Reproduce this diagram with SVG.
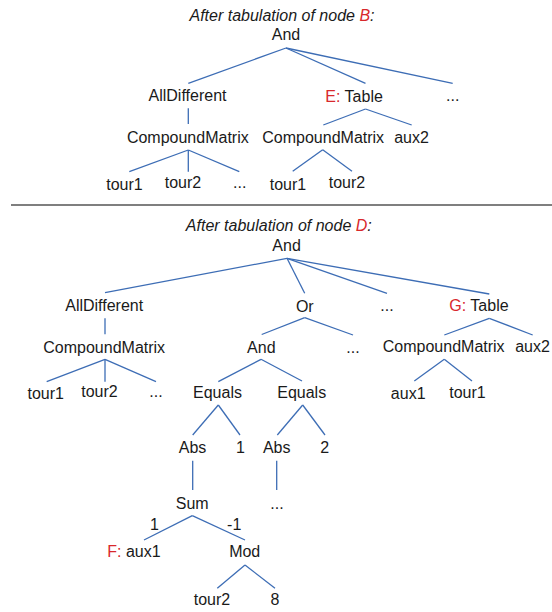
<svg xmlns="http://www.w3.org/2000/svg" width="552" height="612" viewBox="0 0 552 612">
<style>
text{font-family:"Liberation Sans",Arial,sans-serif;font-size:16px;fill:#1a1a1a;text-anchor:middle}
text.s{text-anchor:start}
text.t{font-style:italic}
.r{fill:#d8282c}
#connectors line{stroke:#3d6db5;stroke-width:1.3;fill:none}
#sep{stroke:#555;stroke-width:1.3}
</style>
<rect width="552" height="612" fill="#fff"/>
<g id="connectors">
<line x1="286" y1="48" x2="188.3" y2="83.3"/>
<line x1="286" y1="48" x2="365.5" y2="83.3"/>
<line x1="286" y1="48" x2="452.7" y2="83.3"/>
<line x1="188.3" y1="108.3" x2="188.3" y2="124"/>
<line x1="365.5" y1="109" x2="323.3" y2="125"/>
<line x1="365.5" y1="109" x2="411.7" y2="125"/>
<line x1="188.3" y1="150" x2="129.3" y2="171.7"/>
<line x1="188.3" y1="150" x2="188.3" y2="171.7"/>
<line x1="188.3" y1="150" x2="239.3" y2="171.7"/>
<line x1="322.7" y1="149.7" x2="292.7" y2="171.3"/>
<line x1="322.7" y1="149.7" x2="352" y2="171.3"/>
<line x1="287" y1="258.3" x2="105" y2="292.7"/>
<line x1="287" y1="258.3" x2="304.7" y2="293.3"/>
<line x1="287" y1="258.3" x2="387" y2="293.3"/>
<line x1="287" y1="258.3" x2="489.3" y2="294"/>
<line x1="105" y1="318.3" x2="105" y2="334.3"/>
<line x1="304.7" y1="317.7" x2="261.7" y2="334.5"/>
<line x1="304.7" y1="317.7" x2="353" y2="335"/>
<line x1="489.3" y1="318.3" x2="444.3" y2="335"/>
<line x1="489.3" y1="318.3" x2="532.7" y2="335"/>
<line x1="105" y1="359.3" x2="46.7" y2="381.7"/>
<line x1="105" y1="359.3" x2="105" y2="381.7"/>
<line x1="105" y1="359.3" x2="156" y2="381.7"/>
<line x1="261" y1="359.3" x2="218.3" y2="381.7"/>
<line x1="261" y1="359.3" x2="302" y2="381"/>
<line x1="444.3" y1="359.3" x2="414.3" y2="381"/>
<line x1="444.3" y1="359.3" x2="472" y2="381"/>
<line x1="218.3" y1="405" x2="192.7" y2="435"/>
<line x1="218.3" y1="405" x2="240" y2="435"/>
<line x1="302.7" y1="405" x2="277.3" y2="435"/>
<line x1="302.7" y1="405" x2="325" y2="435"/>
<line x1="192.7" y1="460.7" x2="192.7" y2="490"/>
<line x1="276.7" y1="460.7" x2="276.7" y2="490"/>
<line x1="192.3" y1="515.7" x2="144" y2="540"/>
<line x1="192.3" y1="515.7" x2="245" y2="540"/>
<line x1="245" y1="565" x2="217.3" y2="588.3"/>
<line x1="245" y1="565" x2="275" y2="588.3"/>
</g>
<line id="sep" x1="11" y1="205" x2="552" y2="205"/>
<g id="top">
<text id="title1" class="t" x="282" y="20.5">After tabulation of node <tspan class="r">B</tspan>:</text>
<g id="t_and"><text x="286" y="40">And</text></g>
<g id="t_alldiff"><text x="187.5" y="101">AllDifferent</text></g>
<g id="t_table"><text class="s" x="325.3" y="101.5"><tspan class="r">E:</tspan> Table</text></g>
<g id="t_dots1"><text x="452.7" y="101">...</text></g>
<g id="t_cm1"><text x="187.8" y="142.7">CompoundMatrix</text></g>
<g id="t_cm2"><text x="323.2" y="142.7">CompoundMatrix</text></g>
<g id="t_aux2"><text x="411.5" y="142.7">aux2</text></g>
<g id="t_tour1a"><text x="124.5" y="189.5">tour1</text></g>
<g id="t_tour2a"><text x="183" y="188">tour2</text></g>
<g id="t_dots2"><text x="239.7" y="188">...</text></g>
<g id="t_tour1b"><text x="288" y="189.5">tour1</text></g>
<g id="t_tour2b"><text x="347" y="188">tour2</text></g>
</g>
<g id="bottom">
<text id="title2" class="t" x="278.8" y="230.7">After tabulation of node <tspan class="r">D</tspan>:</text>
<g id="b_and"><text x="286.6" y="250.7">And</text></g>
<g id="b_alldiff"><text x="104.2" y="311">AllDifferent</text></g>
<g id="b_or"><text x="304.8" y="311.5">Or</text></g>
<g id="b_dots1"><text x="387" y="311">...</text></g>
<g id="b_table"><text class="s" x="449.3" y="311"><tspan class="r">G:</tspan> Table</text></g>
<g id="b_cm1"><text x="104.2" y="352.7">CompoundMatrix</text></g>
<g id="b_and2"><text x="261.3" y="352.7">And</text></g>
<g id="b_dots2"><text x="353" y="352.7">...</text></g>
<g id="b_cm2"><text x="443.7" y="352">CompoundMatrix</text></g>
<g id="b_aux2"><text x="532.5" y="352">aux2</text></g>
<g id="b_tour1a"><text x="45.7" y="399">tour1</text></g>
<g id="b_tour2a"><text x="99.5" y="397">tour2</text></g>
<g id="b_dots3"><text x="156" y="397">...</text></g>
<g id="b_eq1"><text x="217.5" y="397.5">Equals</text></g>
<g id="b_eq2"><text x="301.7" y="397.5">Equals</text></g>
<g id="b_aux1"><text x="408.2" y="399">aux1</text></g>
<g id="b_tour1b"><text x="467.5" y="398">tour1</text></g>
<g id="b_abs1"><text x="192.5" y="453.3">Abs</text></g>
<g id="b_one"><text x="240.5" y="453.3">1</text></g>
<g id="b_abs2"><text x="276.7" y="453.3">Abs</text></g>
<g id="b_two"><text x="324.7" y="453.3">2</text></g>
<g id="b_sum"><text x="192.2" y="509.3">Sum</text></g>
<g id="b_dots4"><text x="277" y="509">...</text></g>
<g id="b_w1"><text x="154.5" y="530">1</text></g>
<g id="b_wm1"><text x="234.2" y="530">-1</text></g>
<g id="b_aux1f"><text class="s" x="107.3" y="557.3"><tspan class="r">F:</tspan> aux1</text></g>
<g id="b_mod"><text x="244.7" y="557.3">Mod</text></g>
<g id="b_tour2b"><text x="212" y="605">tour2</text></g>
<g id="b_eight"><text x="275" y="605">8</text></g>
</g>
</svg>
